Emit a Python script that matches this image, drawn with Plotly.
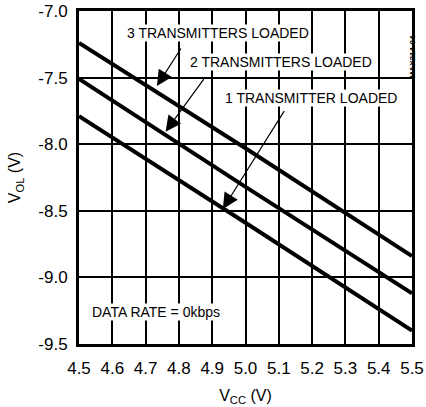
import plotly.graph_objects as go

# Data
vcc = [4.5, 5.0, 5.5]
vol_1tx = [-7.79, -8.59, -9.40]
vol_2tx = [-7.51, -8.32, -9.12]
vol_3tx = [-7.24, -8.03, -8.84]

x_ticks = [4.5, 4.6, 4.7, 4.8, 4.9, 5.0, 5.1, 5.2, 5.3, 5.4, 5.5]
x_ticktext = ["4.5", "4.6", "4.7", "4.8", "4.9", "5.0", "5.1", "5.2", "5.3", "5.4", "5.5"]
y_ticks = [-9.5, -9.0, -8.5, -8.0, -7.5, -7.0]
y_ticktext = ["-9.5", "-9.0", "-8.5", "-8.0", "-7.5", "-7.0"]

labels = ["3 TRANSMITTERS LOADED", "2 TRANSMITTERS LOADED", "1 TRANSMITTER LOADED"]
label_x = [4.917, 5.107, 5.197]
label_y = [-7.165, -7.383, -7.653]
arrow_tail_x = [4.809, 4.878, 5.119]
arrow_tail_y = [-7.27, -7.50, -7.74]
arrow_tip_x = [4.734, 4.760, 4.932]
arrow_tip_y = [-7.563, -7.906, -8.486]

FONT = "Liberation Sans, Arial, sans-serif"

fig = go.Figure()
for ys in (vol_1tx, vol_2tx, vol_3tx):
    fig.add_trace(go.Scatter(x=vcc, y=ys, mode="lines",
                             line=dict(color="black", width=4), showlegend=False,
                             hoverinfo="skip"))

annotations = []
for t, lx, ly in zip(labels, label_x, label_y):
    annotations.append(dict(x=lx, y=ly, xref="x", yref="y", text=t, showarrow=False,
                            font=dict(size=14, color="black", family=FONT), bgcolor="white",
                            borderpad=0))
for tx, ty, hx, hy in zip(arrow_tail_x, arrow_tail_y, arrow_tip_x, arrow_tip_y):
    annotations.append(dict(x=hx, y=hy, xref="x", yref="y", ax=tx, ay=ty, axref="x", ayref="y",
                            text="", showarrow=True, arrowhead=2, arrowsize=2.6, arrowwidth=1.2,
                            arrowcolor="black"))
annotations.append(dict(x=4.731, y=-9.26, xref="x", yref="y", text="DATA RATE = 0kbps",
                        showarrow=False, bgcolor="white", borderpad=0,
                        font=dict(size=14, color="black", family=FONT)))
annotations.append(dict(x=1.022, y=0.934, xref="paper", yref="paper", text="<b>MAX214-04</b>",
                        showarrow=False, textangle=-90,
                        font=dict(size=8, color="black", family=FONT)))

fig.update_layout(
    width=426, height=407,
    margin=dict(l=79, r=14, t=11, b=63),
    paper_bgcolor="white", plot_bgcolor="white",
    font=dict(family=FONT, color="black", size=16),
    annotations=annotations,
    xaxis=dict(range=[4.5, 5.5], tickvals=x_ticks, ticktext=x_ticktext,
               showgrid=True, gridcolor="black", gridwidth=1.5,
               showline=True, linecolor="black", linewidth=3, mirror=True,
               zeroline=False, ticks="", ticklabelstandoff=7, automargin=False,
               tickfont=dict(size=17, family=FONT),
               title=dict(text="V<sub>CC</sub> (V)", font=dict(size=16, family=FONT), standoff=13)),
    yaxis=dict(range=[-9.5, -7.0], tickvals=y_ticks, ticktext=y_ticktext,
               showgrid=True, gridcolor="black", gridwidth=1.5,
               showline=True, linecolor="black", linewidth=3, mirror=True,
               zeroline=False, ticks="", ticklabelstandoff=5, automargin=False,
               tickfont=dict(size=17, family=FONT),
               title=dict(text="V<sub>OL</sub> (V)", font=dict(size=16, family=FONT), standoff=14)),
)

fig.write_html("out.html")
